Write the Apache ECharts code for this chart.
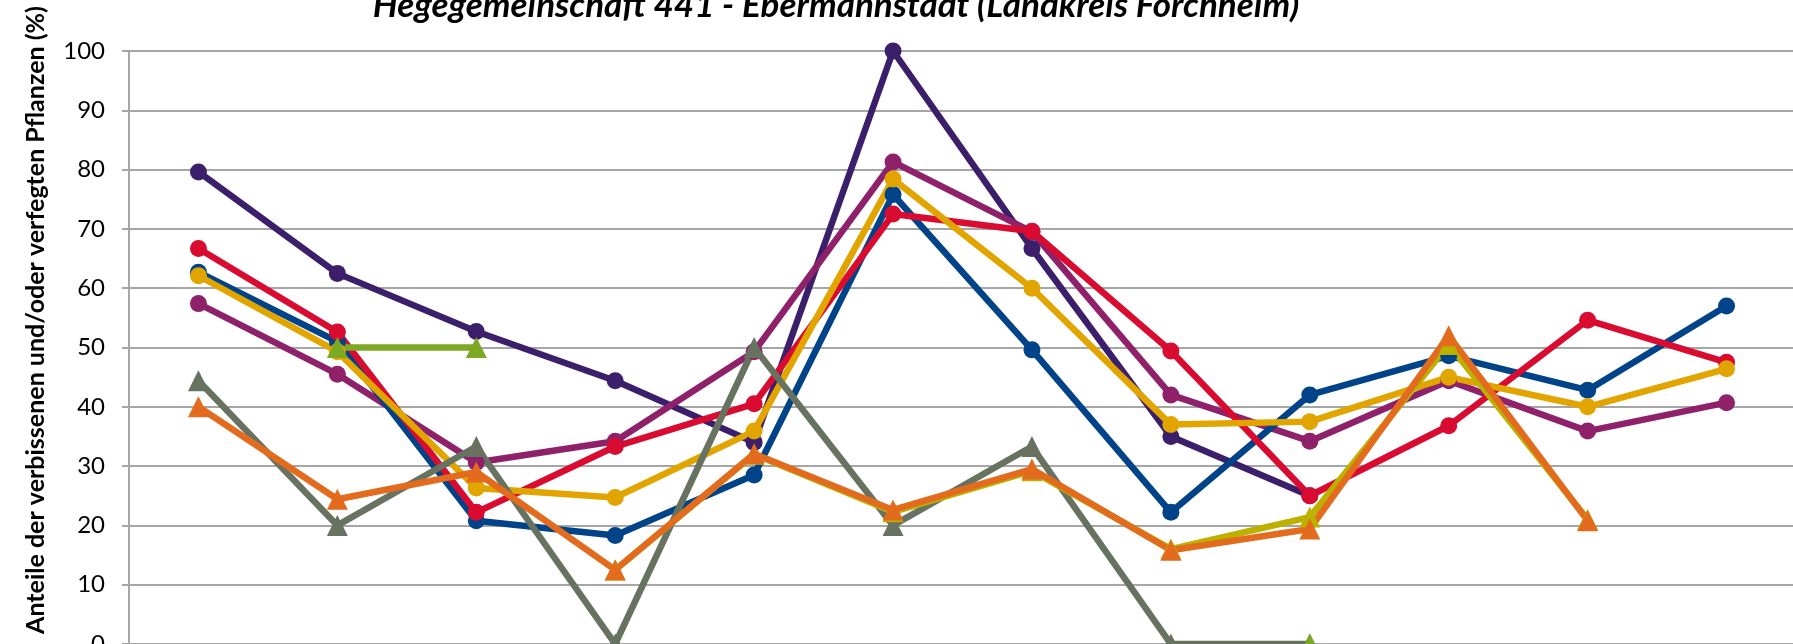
<!DOCTYPE html>
<html>
<head>
<meta charset="utf-8">
<script src="https://cdn.jsdelivr.net/npm/echarts@6/dist/echarts.min.js"></script>
<style>html,body{margin:0;padding:0;background:#fff}#c{width:1793px;height:644px}</style>
</head>
<body>
<div id="c"></div>
<script>
var categories = ['1','2','3','4','5','6','7','8','9','10','11','12'];
var yTicks = [0,10,20,30,40,50,60,70,80,90,100];
var titleText = 'Hegegemeinschaft 441 - Ebermannstadt (Landkreis Forchheim)';
var yName = 'Anteile der verbissenen und/oder verfegten Pflanzen (%)';

var sDarkPurple = [79.6, 62.5, 52.7, 44.4, 34.0, 100, 66.7, 35.0, 25.0, null, null, null];
var sMagenta    = [57.4, 45.5, 30.6, 34.2, 49.3, 81.3, 69.5, 42.0, 34.2, 44.4, 35.9, 40.7];
var sBlue       = [62.7, 51.0, 20.8, 18.3, 28.5, 75.8, 49.6, 22.2, 42.0, 48.6, 42.8, 57.0];
var sRed        = [66.7, 52.6, 22.2, 33.3, 40.5, 72.5, 69.6, 49.4, 25.0, 36.8, 54.6, 47.5];
var sYellow     = [62.1, 49.3, 26.3, 24.7, 35.9, 78.4, 60.0, 37.0, 37.5, 45.0, 40.0, 46.4];
var sGray       = [44.4, 20.0, 33.3, 0, 50.0, 20.0, 33.3, 0, 0, null, null, null];
var sGreen      = [null, 50.0, 50.0, null, null, null, null, null, 0, null, null, null];
var sOlive      = [null, null, null, 12.5, 32.0, 22.3, 29.2, 16.0, 21.4, 50.5, 21.0, null];
var sOrange     = [40.0, 24.4, 29.0, 12.5, 32.1, 22.6, 29.5, 15.8, 19.4, 52.0, 20.8, null];

function mk(name, data, color, symbol, size) {
  return {
    name: name, type: 'line', data: data, clip: false,
    symbol: symbol, symbolSize: size, showSymbol: true,
    connectNulls: false,
    lineStyle: {color: color, width: 6.5},
    itemStyle: {color: color},
    emphasis: {disabled: true}
  };
}

var chart = echarts.init(document.getElementById('c'), null, {renderer: 'canvas'});
chart.setOption({
  animation: false,
  backgroundColor: '#ffffff',
  title: {
    text: titleText,
    left: 831, top: -17, textAlign: 'center',
    textStyle: {fontFamily: 'Lato', fontWeight: 'bold', fontStyle: 'italic', fontSize: 35, color: '#000'}
  },
  graphic: [{
    type: 'text', x: 36, y: 320, rotation: Math.PI / 2,
    style: {text: yName, fontFamily: 'Lato', fontWeight: 'bold', fontSize: 25, fill: '#000',
            textAlign: 'center', textVerticalAlign: 'middle'}
  }],
  grid: {left: 129, top: 51, width: 1667, height: 593, containLabel: false, outerBoundsMode: 'none'},
  xAxis: {
    type: 'category', data: categories, boundaryGap: true,
    axisLabel: {show: false}, axisTick: {show: false},
    axisLine: {show: true, lineStyle: {color: '#A6A6A6', width: 2}}
  },
  yAxis: {
    type: 'value', min: 0, max: 100, interval: 10,
    axisLabel: {fontFamily: 'Lato', fontSize: 24, color: '#000', margin: 24,
      formatter: function (v) { return yTicks.indexOf(v) >= 0 ? String(v) : ''; }},
    axisLine: {show: true, lineStyle: {color: '#A6A6A6', width: 2}},
    axisTick: {show: true, inside: false, length: 7, lineStyle: {color: '#A6A6A6', width: 2}},
    splitLine: {show: true, lineStyle: {color: '#A6A6A6', width: 2}}
  },
  series: [
    mk('s1', sDarkPurple, '#3B1F6B', 'circle', 17),
    mk('s2', sMagenta, '#8E2169', 'circle', 17),
    mk('s3', sBlue, '#004388', 'circle', 17),
    mk('s4', sRed, '#D90B31', 'circle', 17),
    mk('s5', sYellow, '#E2A500', 'circle', 17),
    mk('s6', sGray, '#687260', 'triangle', 21),
    mk('s7', sGreen, '#7CA823', 'triangle', 21),
    mk('s8', sOlive, '#BDB100', 'triangle', 21),
    mk('s9', sOrange, '#E36B1E', 'triangle', 21)
  ]
});
</script>
</body>
</html>
